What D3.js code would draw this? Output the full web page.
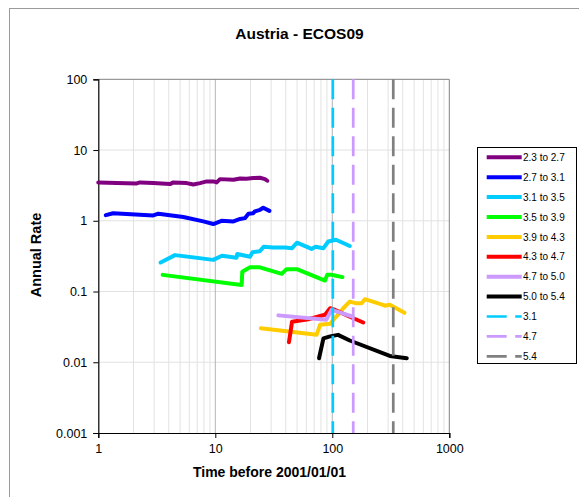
<!DOCTYPE html>
<html>
<head>
<meta charset="utf-8">
<script src="https://cdn.jsdelivr.net/npm/d3@7"></script>
<style>
  html, body { margin: 0; padding: 0; background: #fff; }
  svg { display: block; font-family: "Liberation Sans", Arial, sans-serif; }
</style>
</head>
<body>
<svg id="chart" width="579" height="497"></svg>
<script>
// Annual rate of events against time before 2001/01/01, per magnitude band
const seriesNames = ["2.3 to 2.7", "2.7 to 3.1", "3.1 to 3.5", "3.5 to 3.9",
                     "3.9 to 4.3", "4.3 to 4.7", "4.7 to 5.0", "5.0 to 5.4"];
const seriesColors = ["#800080", "#0000ff", "#00ccff", "#00ff00",
                      "#ffcc00", "#ff0000", "#cc99ff", "#000000"];

// [time, annual rate]
const band23 = [[1.0,3.49],[1.44,3.41],[2.13,3.37],[2.27,3.49],[2.95,3.41],[4.1,3.30],
  [4.38,3.49],[5.69,3.41],[6.49,3.26],[7.4,3.41],[8.44,3.60],[9.62,3.60],[10.27,3.49],
  [10.97,3.88],[14.3,3.80],[16.3,3.97],[18.5,3.93],[21.1,4.01],[24.1,4.06],[26.6,3.88],[27.8,3.68]];
const band27 = [[1.16,1.20],[1.34,1.28],[2.95,1.19],[3.26,1.26],[5.33,1.13],[7.9,0.98],
  [9.62,0.90],[11.3,1.0],[14.3,0.98],[16.3,1.06],[17.9,1.09],[19.2,1.26],[21.1,1.28],
  [21.8,1.36],[24.1,1.43],[25.7,1.53],[29.0,1.38]];
const band31 = [[3.41,0.257],[4.52,0.327],[9.6,0.28],[11.4,0.32],[15.2,0.30],[15.4,0.34],
  [19.8,0.31],[20.8,0.36],[24.0,0.37],[25.9,0.43],[31.3,0.42],[39.4,0.42],[45.3,0.41],
  [49.8,0.49],[66.5,0.40],[71.9,0.43],[84.0,0.41],[92.4,0.51],[107.6,0.54],[141,0.44]];
const band35 = [[3.55,0.172],[16.8,0.124],[17.0,0.19],[19.8,0.22],[24.0,0.22],[37.0,0.178],
  [40.6,0.207],[49.8,0.207],[86.6,0.143],[90.5,0.172],[98.6,0.172],[103,0.170],[122,0.16]];
const band39 = [[24.5,0.0303],[73.4,0.0244],[78.6,0.0338],[95.8,0.035],[105,0.042],[112,0.047],
  [124,0.058],[141,0.072],[161,0.068],[178,0.068],[190,0.078],[263,0.066],[281,0.063],
  [310,0.065],[414,0.050]];
const band43 = [[42.6,0.0192],[45.3,0.0375],[62.4,0.0406],[86.6,0.047],[95.8,0.058],
  [103,0.056],[141,0.044],[184,0.0365]];
const band47 = [[34.6,0.046],[89,0.040],[98.6,0.055],[110,0.052],[150,0.044]];
const band50 = [[77,0.0114],[84,0.0218],[95.8,0.0232],[112,0.0244],[141,0.0203],
  [310,0.0123],[433,0.0114]];
const seriesData = [band23, band27, band31, band35, band39, band43, band47, band50];

// Vertical reference lines (completeness times) for given magnitudes
const refNames = ["3.1", "4.7", "5.4"];
const refTimes = [101, 151, 332];
const refColors = ["#00ccff", "#cc99ff", "#808080"];

const xTicks = [1, 10, 100, 1000];
const yTicks = [0.001, 0.01, 0.1, 1, 10, 100];

const svg = d3.select("#chart");
const plot = { left: 98.3, right: 449.3, top: 79.3, bottom: 433 };

const x = d3.scaleLog().domain([1, 1000]).range([plot.left, plot.right]);
const y = d3.scaleLog().domain([0.001, 100]).range([plot.bottom, plot.top]);

// outer chart frame
svg.append("rect").attr("x", 9.5).attr("y", 8.5).attr("width", 600).attr("height", 600)
  .attr("fill", "#fff").attr("stroke", "#9a9a9a").attr("stroke-width", 1);

// minor vertical grid
const minorX = [];
for (let d = 1; d < 1000; d *= 10) for (let k = 2; k <= 9; k++) minorX.push(d * k);
const grid = svg.append("g");
grid.selectAll("line.mx").data(minorX).join("line")
  .attr("x1", d => x(d)).attr("x2", d => x(d))
  .attr("y1", plot.top).attr("y2", plot.bottom)
  .attr("stroke", "#e2e2e2").attr("stroke-width", 1);
grid.selectAll("line.hy").data(yTicks.slice(1, -1)).join("line")
  .attr("x1", plot.left).attr("x2", plot.right)
  .attr("y1", d => y(d)).attr("y2", d => y(d))
  .attr("stroke", "#e2e2e2").attr("stroke-width", 1);
grid.selectAll("line.vx").data(xTicks.slice(1, -1)).join("line")
  .attr("x1", d => x(d)).attr("x2", d => x(d))
  .attr("y1", plot.top).attr("y2", plot.bottom)
  .attr("stroke", "#b4b4b4").attr("stroke-width", 1);

// plot area frame (top/right)
svg.append("path")
  .attr("d", `M${plot.left},${plot.top}H${plot.right}V${plot.bottom}`)
  .attr("fill", "none").attr("stroke", "#808080").attr("stroke-width", 1);

// axes
const fmt = d => (d >= 1 ? d3.format("d")(d) : String(d));
const xAxis = svg.append("g").attr("transform", `translate(0,${plot.bottom})`)
  .call(d3.axisBottom(x).tickValues(xTicks).tickFormat(fmt).tickSize(5).tickPadding(6));
const yAxis = svg.append("g").attr("transform", `translate(${plot.left},0)`)
  .call(d3.axisLeft(y).tickValues(yTicks).tickFormat(fmt).tickSize(5).tickPadding(6));
[xAxis, yAxis].forEach(a => {
  a.select(".domain").attr("stroke", "#000").attr("stroke-width", 1.2);
  a.selectAll(".tick line").attr("stroke", "#000");
  a.selectAll(".tick text").attr("font-size", 12.5).attr("fill", "#000")
    .attr("font-family", "Liberation Sans, Arial, sans-serif");
});

// series lines
const line = d3.line().x(d => x(d[0])).y(d => y(d[1]));
svg.append("g").selectAll("path").data(seriesData).join("path")
  .attr("d", line)
  .attr("fill", "none")
  .attr("stroke", (d, i) => seriesColors[i])
  .attr("stroke-width", 4)
  .attr("stroke-linejoin", "round")
  .attr("stroke-linecap", "round");

// dashed reference lines
svg.append("g").selectAll("line").data(refTimes).join("line")
  .attr("x1", d => x(d)).attr("x2", d => x(d))
  .attr("y1", y(100)).attr("y2", y(0.001))
  .attr("stroke", (d, i) => refColors[i])
  .attr("stroke-width", 2.7)
  .attr("stroke-dasharray", "20,8.5");

// titles
svg.append("text").attr("x", 299.5).attr("y", 39).attr("text-anchor", "middle")
  .attr("font-size", 15.5).attr("font-weight", "bold").text("Austria - ECOS09");
svg.append("text").attr("x", 269.5).attr("y", 476.5).attr("text-anchor", "middle")
  .attr("font-size", 14).attr("font-weight", "bold").text("Time before 2001/01/01");
svg.append("text").attr("transform", "translate(41,255) rotate(-90)")
  .attr("text-anchor", "middle").attr("font-size", 14.5).attr("font-weight", "bold")
  .text("Annual Rate");

// legend
const legend = svg.append("g");
legend.append("rect").attr("x", 477.5).attr("y", 147.5).attr("width", 99).attr("height", 216)
  .attr("fill", "#fff").attr("stroke", "#000").attr("stroke-width", 1);
const entries = seriesNames.map((n, i) => ({ name: n, color: seriesColors[i], dash: null, w: 4 }))
  .concat(refNames.map((n, i) => ({ name: n, color: refColors[i], dash: "20,8.5", w: 2.7 })));
const item = legend.selectAll("g.item").data(entries).join("g")
  .attr("transform", (d, i) => `translate(0,${157.3 + i * 19.9})`);
item.append("line").attr("x1", 486.7).attr("x2", 521.7).attr("y1", 0).attr("y2", 0)
  .attr("stroke", d => d.color).attr("stroke-width", d => d.w)
  .attr("stroke-dasharray", d => d.dash);
item.append("text").attr("x", 523).attr("y", 3.6).attr("font-size", 10).text(d => d.name);
</script>
</body>
</html>
